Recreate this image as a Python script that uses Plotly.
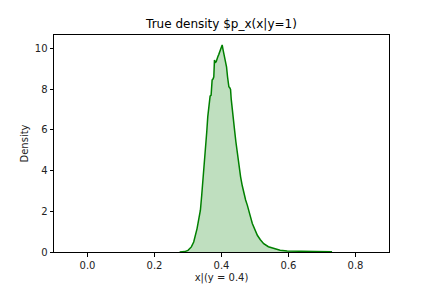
import plotly.graph_objects as go

x_vals = [0.275, 0.29, 0.30, 0.31, 0.317, 0.322, 0.327, 0.332, 0.337, 0.341, 0.345, 0.349,
          0.352, 0.356, 0.359, 0.363, 0.366, 0.369, 0.372, 0.375, 0.377, 0.379, 0.381, 0.384,
          0.386, 0.389, 0.392, 0.395, 0.398, 0.402, 0.405, 0.409, 0.412, 0.415, 0.418, 0.422,
          0.425, 0.427, 0.429, 0.432, 0.435, 0.439, 0.443, 0.447, 0.452, 0.457, 0.462, 0.467,
          0.472, 0.477, 0.482, 0.487, 0.492, 0.499, 0.507, 0.516, 0.526, 0.54, 0.556, 0.575,
          0.596, 0.63, 0.68, 0.73]
density = [0.0, 0.02, 0.08, 0.25, 0.49, 0.8, 1.15, 1.6, 2.05, 2.8, 3.52, 4.4,
           5.16, 5.9, 6.63, 7.2, 7.65, 7.7, 8.44, 8.5, 8.6, 9.42, 9.3, 9.34,
           9.5, 9.58, 9.7, 9.83, 9.95, 10.16, 9.9, 9.58, 9.3, 9.09, 8.6, 8.11,
           8.05, 7.98, 7.5, 7.12, 6.6, 5.98, 5.4, 4.83, 4.2, 3.69, 3.25, 2.87,
           2.55, 2.3, 2.05, 1.7, 1.4, 1.1, 0.82, 0.6, 0.41, 0.26, 0.17, 0.09,
           0.05, 0.03, 0.02, 0.01]

x_ticks = [0.0, 0.2, 0.4, 0.6, 0.8]
y_ticks = [0, 2, 4, 6, 8, 10]

fig = go.Figure()
fig.add_trace(go.Scatter(x=x_vals, y=density, mode="lines", fill="tozeroy",
                         line=dict(color="#008000", width=1.5),
                         fillcolor="rgba(0,128,0,0.25)", showlegend=False))

axis_common = dict(showline=True, linecolor="black", linewidth=1, mirror=True,
                   ticks="outside", ticklen=3.5, tickwidth=1, tickcolor="black",
                   showgrid=False, zeroline=False, automargin=False,
                   tickfont=dict(family="DejaVu Sans", size=10, color="#222"))

fig.update_layout(
    width=432, height=288,
    margin=dict(l=54, r=43, t=35, b=36, autoexpand=False),
    paper_bgcolor="white", plot_bgcolor="white",
    title=dict(text="True density $p_x(x|y=1)", x=0.5, xanchor="center", xref="paper",
               y=1 - 24/288, yanchor="middle", yref="container", automargin=False,
               font=dict(family="DejaVu Sans", size=12, color="black")),
    xaxis=dict(range=[-0.1, 0.9], tickvals=x_ticks, tickformat=".1f",
               title=dict(text="x|(y = 0.4)", standoff=4,
                          font=dict(family="DejaVu Sans", size=10, color="#222")),
               **axis_common),
    yaxis=dict(range=[0, 10.65], tickvals=y_ticks,
               title=dict(text="Density", standoff=4,
                          font=dict(family="DejaVu Sans", size=10, color="#222")),
               **axis_common),
)

fig.write_html("out.html", config={"displayModeBar": False},
               post_script="document.body.style.margin='0';document.body.style.overflow='hidden';")
